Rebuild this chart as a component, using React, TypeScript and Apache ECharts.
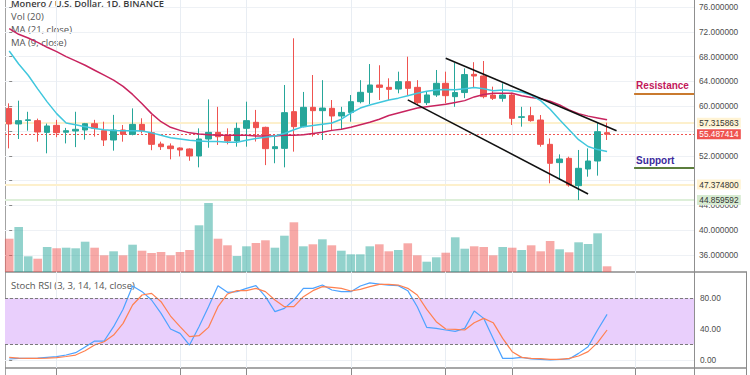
import React, { useEffect, useRef } from 'react';
import * as echarts from 'echarts';

// ---- data (daily candles, XMR/USD) ----
const opens = [59.65, 57.13, 57.7, 57.67, 55.78, 56.91, 55.8, 56.0, 56.16, 57.18, 56.05, 54.55, 56.16, 55.46, 57.07, 55.73, 53.9, 53.58, 53.26, 53.1, 51.97, 54.71, 55.78, 55.19, 54.39, 56.43, 57.4, 56.59, 53.15, 53.2, 59.12, 56.7, 59.82, 59.28, 59.66, 58.42, 59.0, 60.73, 62.24, 63.42, 63.04, 62.77, 63.96, 63.04, 60.57, 61.81, 63.69, 61.54, 62.2, 65.14, 64.87, 61.8, 61.27, 61.8, 58.2, 58.47, 57.77, 53.85, 50.9, 51.59, 47.18, 49.87, 51.16, 55.73];
const closes = [57.13, 57.67, 57.8, 55.84, 56.81, 55.73, 56.05, 56.27, 57.18, 56.43, 54.55, 56.16, 55.46, 57.07, 56.05, 53.85, 53.47, 53.15, 52.94, 51.97, 54.71, 55.78, 55.08, 54.39, 56.43, 57.67, 56.54, 53.15, 53.47, 58.96, 56.7, 59.82, 59.28, 59.7, 58.42, 59.0, 60.73, 62.24, 63.42, 63.04, 62.72, 63.96, 62.88, 60.57, 61.81, 63.69, 61.7, 62.2, 65.1, 64.87, 61.54, 61.27, 61.8, 58.04, 58.3, 57.67, 53.85, 50.79, 51.48, 47.29, 49.98, 51.16, 55.89, 55.487414];
const lows = [53.2, 54.71, 56.05, 54.28, 52.4, 55.0, 54.0, 53.4, 54.6, 55.1, 53.58, 52.83, 54.28, 55.3, 55.6, 52.9, 52.94, 51.43, 51.9, 51.2, 50.14, 53.3, 53.74, 53.85, 53.47, 53.47, 54.3, 50.5, 50.8, 50.14, 52.67, 56.6, 55.1, 54.55, 56.16, 56.16, 57.5, 60.46, 60.35, 61.0, 61.0, 62.08, 61.8, 60.2, 60.2, 61.5, 60.46, 59.9, 61.3, 63.1, 61.27, 61.0, 60.73, 56.97, 56.7, 57.5, 53.47, 47.56, 48.1, 47.02, 44.859592, 48.63, 48.8, 54.55];
const highs = [60.46, 60.89, 59.1, 58.0, 57.2, 57.8, 56.5, 59.1, 57.3, 57.8, 57.5, 58.6, 56.97, 59.65, 58.05, 58.6, 54.28, 54.0, 53.36, 53.2, 56.43, 61.1, 59.9, 56.43, 57.34, 60.73, 59.4, 56.7, 55.1, 63.42, 70.95, 62.3, 65.03, 64.2, 61.0, 59.9, 61.8, 64.2, 66.8, 66.6, 64.5, 65.57, 67.99, 64.2, 62.35, 65.84, 65.57, 67.0, 66.1, 67.1, 67.29, 63.15, 63.7, 62.18, 59.9, 59.9, 58.58, 54.8, 52.23, 51.86, 52.94, 53.2, 57.34, 57.34];
const volumes = [33.3, 45, 15.7, 13.3, 25, 23.7, 24.3, 23.7, 30.3, 24.3, 16.7, 20.7, 16.7, 27.3, 21.3, 19, 20, 16.7, 20, 22, 46.7, 69, 33.3, 26.7, 16, 25.7, 29, 31.7, 24.3, 36.3, 49.7, 25.7, 27.7, 32.7, 26.7, 21.3, 17.7, 17.7, 25.7, 27.7, 20.7, 22, 28.7, 16.7, 10.3, 14.7, 19.3, 34.7, 23.3, 25.7, 25, 16.7, 25, 24.3, 22, 26.7, 20.7, 31, 22.7, 19.7, 29.7, 28, 38.7, 5.7];
const ma21 = [72.5, 71.6, 71.0, 70.3, 69.5, 68.8, 68.0, 67.3, 66.6, 65.8, 65.0, 64.2, 63.2, 61.9, 60.4, 58.8, 57.5, 56.6, 56.1, 55.7, 55.5, 55.4, 55.3, 55.3, 55.3, 55.3, 55.2, 55.2, 55.2, 55.3, 55.3, 55.4, 55.6, 55.8, 56.1, 56.3, 56.6, 57.0, 57.4, 57.9, 58.5, 58.9, 59.3, 59.7, 59.9, 60.1, 60.3, 60.6, 60.9, 61.5, 61.9, 62.1, 62.1, 62.1, 61.7, 61.4, 61.2, 60.8, 60.2, 59.4, 58.8, 58.4, 58.1, 57.8];
const ma9 = [68.9, 66.8, 65.0, 62.8, 60.7, 58.8, 57.3, 57.0, 56.7, 56.4, 56.2, 56.1, 56.05, 56.05, 56.0, 55.7, 55.3, 54.9, 54.7, 54.5, 54.4, 54.3, 54.3, 54.2, 54.2, 54.5, 54.8, 55.0, 55.2, 55.6, 56.2, 56.7, 56.9, 57.1, 57.3, 57.9, 58.9, 59.7, 60.2, 60.6, 61.0, 61.3, 61.7, 62.1, 62.4, 62.6, 62.7, 62.65, 62.8, 63.0, 62.8, 62.5, 62.6, 62.5, 62.3, 61.8, 60.9, 59.5, 57.8, 56.2, 54.6, 53.5, 53.0, 52.7];
const stochK = [1.3, 2.1, 2.3, 2.6, 3.5, 4.3, 6.5, 9.5, 17, 24.6, 24.6, 43.2, 65.7, 96, 88.6, 77.8, 60.5, 40.2, 34.5, 19.4, 43.2, 69.1, 96.4, 87.7, 88.6, 92.9, 96.4, 82.1, 62.7, 67, 77.8, 92.9, 92.9, 97.2, 90.8, 88.6, 88.6, 96, 100, 98.5, 97.2, 96.4, 89.9, 69.1, 42.3, 41, 38.9, 37.1, 41, 63.5, 54, 28, 2.1, 2.1, 3.4, 1.3, 0.8, 0, 0.8, 1.3, 8.6, 17.3, 38.9, 59.2];
const stochD = [3.4, 2.5, 2.1, 2.1, 2.5, 3, 4.5, 6.4, 12, 19.4, 23.7, 32.4, 47.5, 71.3, 84.3, 86.4, 75.6, 57, 43.2, 30.2, 31.5, 42.3, 69.1, 85.6, 89.9, 89.9, 92.9, 88.6, 77.8, 69.1, 69.1, 82.1, 89.9, 95.1, 94.2, 92.9, 89.5, 91.6, 95.1, 98, 98, 97.2, 92.9, 84.3, 65.7, 49.7, 40.2, 39.7, 38.9, 48.4, 54, 48.4, 28, 10.8, 3.4, 2.1, 1.7, 0.8, 0.8, 2.1, 5.2, 10.8, 22.5, 38.9];

const timeTickIndex = [5, 18, 25, 36, 46, 53, 66];
const lastPrice = 55.487414;
const resistanceLevel = 62;
const supportLevel = 50;
const markedLevels = [57.315863, 47.3748];
const swingLow = 44.859592;
const upperChannel = [[46, 67.74], [64, 56.05]];
const lowerChannel = [[42, 61.02], [61, 45.85]];
const levelStartIndex = 65.85;
const hiddenPriceTicks = [48, 56];
const stochBand = [20, 80];

const X_MIN = -0.4426;
const X_MAX = 72.16;
const UP = '#26a69a';
const DOWN = '#ef5350';
const LABEL_FONT = { fontSize: 8.3, fontFamily: 'Liberation Sans, Arial, sans-serif', lineHeight: 8 };

function levelLabel(v: number, bg: string, fg: string) {
  return {
    show: true,
    position: 'end',
    distance: 3,
    formatter: v.toFixed(6),
    backgroundColor: bg,
    color: fg,
    padding: [1, 2.3, 1, 2.3],
    ...LABEL_FONT,
  };
}

export default function App() {
  const ref = useRef<HTMLDivElement>(null);
  useEffect(() => {
    const chart = echarts.init(ref.current!, undefined, { renderer: 'svg' });
    const xAxisFor = (gridIndex: number) => ({ type: 'value', gridIndex, min: X_MIN, max: X_MAX, show: false });
    const option: any = {
      animation: false,
      grid: [
        { left: 5, width: 689, top: 0, height: 368 },
        { left: 5, width: 689, top: 7, height: 248 },
        { left: 5, width: 689, top: 200, height: 72 },
        { left: 5, width: 689, top: 298.3, height: 61.7 },
        { left: 5, width: 689, top: 368, height: 7 },
      ],
      xAxis: [xAxisFor(0), xAxisFor(1), xAxisFor(2), xAxisFor(3), xAxisFor(4)],
      yAxis: [
        { type: 'value', gridIndex: 0, min: 0, max: 1, show: false },
        {
          type: 'value', gridIndex: 1, position: 'right', min: 36, max: 76, interval: 4,
          axisLine: { show: false },
          axisTick: { show: true, length: 3, lineStyle: { color: '#888' } },
          axisLabel: {
            margin: 5, color: '#4d4d4d', ...LABEL_FONT,
            formatter: (v: number) => (hiddenPriceTicks.includes(v) ? '' : v.toFixed(6)),
          },
          splitLine: { lineStyle: { color: '#eef1f5', width: 1 } },
        },
        { type: 'value', gridIndex: 2, min: 0, max: 72, show: false },
        {
          type: 'value', gridIndex: 3, position: 'right', min: 0, max: 80, interval: 40,
          axisLine: { show: false },
          axisTick: { show: true, length: 3, lineStyle: { color: '#888' } },
          axisLabel: { margin: 6, color: '#4d4d4d', ...LABEL_FONT, formatter: (v: number) => v.toFixed(2) },
          splitLine: { lineStyle: { color: '#eef1f5', width: 1 } },
        },
        { type: 'value', gridIndex: 4, min: 0, max: 1, show: false },
      ],
      series: [
        {
          type: 'line', xAxisIndex: 0, yAxisIndex: 0, data: [[0, 0.5]], showSymbol: false, lineStyle: { width: 0 },
          markLine: {
            silent: true, symbol: ['none', 'none'], z: 0,
            lineStyle: { color: '#e8edf3', width: 1, type: 'solid' },
            label: { show: false },
            data: timeTickIndex.map((i) => ({ xAxis: i })),
          },
        },
        {
          type: 'line', xAxisIndex: 4, yAxisIndex: 4, data: [[0, 0.5]], showSymbol: false, lineStyle: { width: 0 },
          markLine: {
            silent: true, symbol: ['none', 'none'],
            lineStyle: { color: '#8a8a8a', width: 1, type: 'solid' },
            label: { show: false },
            data: timeTickIndex.map((i) => ({ xAxis: i })),
          },
        },
        {
          type: 'bar', xAxisIndex: 2, yAxisIndex: 2, barWidth: 8.6,
          data: volumes.map((v, i) => ({
            value: [i, v],
            itemStyle: { color: closes[i] >= opens[i] ? 'rgba(38,166,154,0.5)' : 'rgba(239,83,80,0.5)' },
          })),
        },
        {
          type: 'line', xAxisIndex: 1, yAxisIndex: 1, data: [[0, lastPrice]], showSymbol: false, lineStyle: { width: 0 },
          markLine: {
            silent: true, symbol: ['none', 'none'], z: 1,
            data: [
              ...markedLevels.map((v) => ({
                yAxis: v, lineStyle: { color: '#fdf0cc', width: 2, type: 'solid' }, label: levelLabel(v, '#fff3d3', '#333'),
              })),
              { yAxis: swingLow, lineStyle: { color: '#ddefd9', width: 2, type: 'solid' }, label: levelLabel(swingLow, '#d6ebd1', '#333') },
              { yAxis: lastPrice, lineStyle: { color: DOWN, width: 1, type: [2, 2] }, label: levelLabel(lastPrice, DOWN, '#fff') },
            ],
          },
        },
        {
          type: 'candlestick', xAxisIndex: 1, yAxisIndex: 1, barWidth: 6, clip: false,
          encode: { x: 0, y: [1, 2, 3, 4] },
          data: opens.map((o, i) => [i, o, closes[i], lows[i], highs[i]]),
          itemStyle: { color: UP, color0: DOWN, borderColor: UP, borderColor0: DOWN, borderWidth: 1 },
        },
        {
          type: 'line', xAxisIndex: 1, yAxisIndex: 1, showSymbol: false,
          data: ma21.map((v, i) => [i, v]),
          lineStyle: { color: '#c8245f', width: 1.5 },
        },
        {
          type: 'line', xAxisIndex: 1, yAxisIndex: 1, showSymbol: false,
          data: ma9.map((v, i) => [i, v]),
          lineStyle: { color: '#40c7dd', width: 1.5 },
          markLine: {
            silent: true, symbol: ['none', 'none'],
            data: [
              [{ coord: upperChannel[0], lineStyle: { color: '#111', width: 1.6, type: 'solid' }, label: { show: false } }, { coord: upperChannel[1] }],
              [{ coord: lowerChannel[0], lineStyle: { color: '#111', width: 1.6, type: 'solid' }, label: { show: false } }, { coord: lowerChannel[1] }],
              [
                {
                  coord: [levelStartIndex, resistanceLevel], lineStyle: { color: '#c97a2f', width: 2, type: 'solid' },
                  label: { show: true, position: 'insideStartTop', distance: [2, 3], formatter: 'Resistance', color: '#c2185b', fontWeight: 'bold', fontSize: 10, fontFamily: 'Liberation Sans, Arial, sans-serif' },
                },
                { coord: [X_MAX, resistanceLevel] },
              ],
              [
                {
                  coord: [levelStartIndex, supportLevel], lineStyle: { color: '#5b7d3c', width: 2, type: 'solid' },
                  label: { show: true, position: 'insideStartTop', distance: [2, 3], formatter: 'Support', color: '#3b2b9c', fontWeight: 'bold', fontSize: 10, fontFamily: 'Liberation Sans, Arial, sans-serif' },
                },
                { coord: [X_MAX, supportLevel] },
              ],
              { yAxis: resistanceLevel, lineStyle: { opacity: 0 }, label: levelLabel(resistanceLevel, '#b5620e', '#fff') },
              { yAxis: supportLevel, lineStyle: { opacity: 0 }, label: levelLabel(supportLevel, '#24501a', '#fff') },
            ],
          },
        },
        {
          type: 'line', xAxisIndex: 3, yAxisIndex: 3, showSymbol: false, clip: false,
          data: stochK.map((v, i) => [i, v]),
          lineStyle: { color: '#4da3ff', width: 1.2 },
          markArea: {
            silent: true,
            itemStyle: { color: '#e9cffc' },
            data: [[{ yAxis: stochBand[0] }, { yAxis: stochBand[1] }]],
          },
          markLine: {
            silent: true, symbol: ['none', 'none'],
            lineStyle: { color: '#7a7a7a', width: 1, type: [3, 2] },
            label: { show: false },
            data: stochBand.map((v) => ({ yAxis: v })),
          },
        },
        {
          type: 'line', xAxisIndex: 3, yAxisIndex: 3, showSymbol: false, clip: false,
          data: stochD.map((v, i) => [i, v]),
          lineStyle: { color: '#ff8150', width: 1.2 },
        },
      ],
      graphic: [
        { type: 'line', silent: true, shape: { x1: 5.5, y1: 0, x2: 5.5, y2: 375 }, style: { stroke: '#a3a3a3', lineWidth: 1 } },
        { type: 'line', silent: true, shape: { x1: 694.5, y1: 0, x2: 694.5, y2: 375 }, style: { stroke: '#8f8f8f', lineWidth: 1 } },
        { type: 'line', silent: true, shape: { x1: 5, y1: 272, x2: 747, y2: 272 }, style: { stroke: '#8a8a8a', lineWidth: 1.5 } },
        { type: 'line', silent: true, shape: { x1: 5, y1: 368, x2: 747, y2: 368 }, style: { stroke: '#8a8a8a', lineWidth: 1.5 } },
        { type: 'line', silent: true, shape: { x1: 746.5, y1: 272, x2: 746.5, y2: 375 }, style: { stroke: '#8a8a8a', lineWidth: 1 } },
        { type: 'text', silent: true, style: { x: 11, y: 3.5, text: 'Monero / U.S. Dollar, 1D, BINANCE', fill: '#3a3a3a', fontSize: 9.3, fontWeight: 600, fontFamily: 'Open Sans', verticalAlign: 'middle' } },
        { type: 'text', silent: true, style: { x: 11, y: 16.5, text: 'Vol (20)', fill: '#555', fontSize: 9.5, fontFamily: 'Open Sans', verticalAlign: 'middle' } },
        { type: 'text', silent: true, style: { x: 11, y: 29.5, text: 'MA (21, close)', fill: '#555', fontSize: 9.5, fontFamily: 'Open Sans', verticalAlign: 'middle' } },
        { type: 'text', silent: true, style: { x: 11, y: 42.5, text: 'MA (9, close)', fill: '#555', fontSize: 9.5, fontFamily: 'Open Sans', verticalAlign: 'middle' } },
        { type: 'text', silent: true, style: { x: 11, y: 285.5, text: 'Stoch RSI (3, 3, 14, 14, close)', fill: '#555', fontSize: 9.5, fontFamily: 'Open Sans', verticalAlign: 'middle' } },
      ],
    };
    chart.setOption(option);
    return () => chart.dispose();
  }, []);
  return <div ref={ref} style={{ position: 'absolute', left: 0, top: 0, width: 750, height: 375 }} />;
}
